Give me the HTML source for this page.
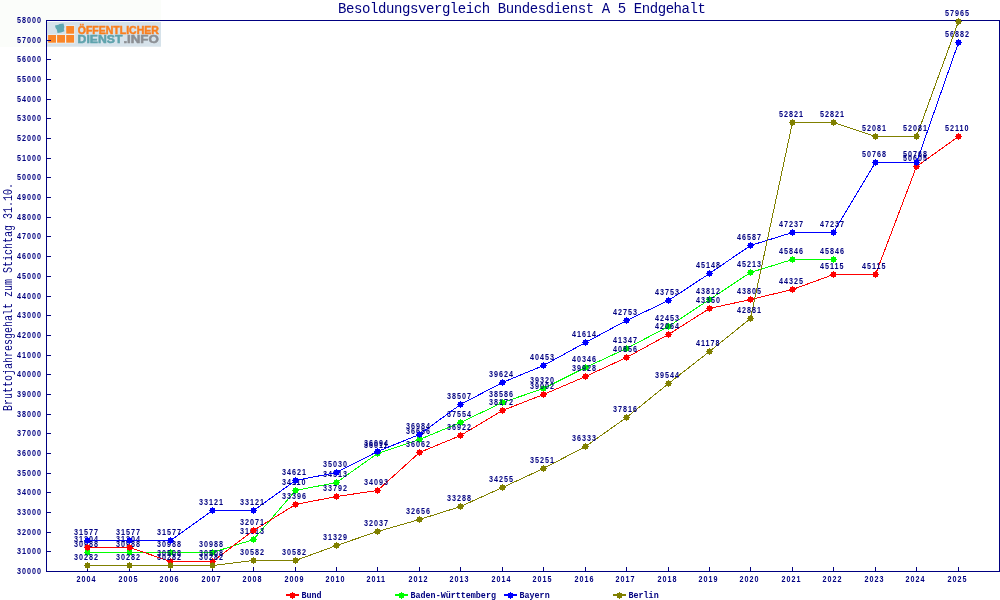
<!DOCTYPE html>
<html lang="de"><head><meta charset="utf-8"><title>Besoldungsvergleich Bundesdienst A 5 Endgehalt</title>
<style>
html,body{margin:0;padding:0;background:#fff;}
body{width:1000px;height:600px;overflow:hidden;font-family:"Liberation Mono",monospace;}
svg{display:block;position:absolute;left:0;top:0;will-change:transform;}
text{font-family:"Liberation Mono",monospace;fill:#000080;}
.t text,.v text{font-family:"Liberation Sans",sans-serif;font-size:9px;letter-spacing:1.25px;font-weight:bold;}
.l{font-size:8.4px;font-weight:bold;}
.ttl{font-size:14px;}
.yt{font-size:13.2px;}
.lg{font-family:"Liberation Sans",sans-serif;font-weight:bold;}
.ce{shape-rendering:crispEdges;}
</style></head><body>
<svg width="1000" height="600" viewBox="0 0 1000 600">
<rect width="1000" height="600" fill="#ffffff"/>
<rect x="0" y="0" width="161" height="47" fill="#fbfdfa"/>
<g id="logo">
<rect x="47" y="22" width="114" height="24.7" fill="#d6e2ea"/>
<rect x="47.6" y="34.4" width="27.2" height="9" fill="#eef3f6"/>
<rect x="65.6" y="25.4" width="9.2" height="9.4" fill="#eef3f6"/>
<rect x="48.1" y="35.0" width="7.9" height="7.7" fill="#fa8629"/>
<rect x="57.1" y="35.0" width="7.9" height="7.7" fill="#fa8629"/>
<rect x="66.2" y="35.0" width="7.9" height="7.7" fill="#fa8629"/>
<rect x="66.2" y="26.0" width="7.9" height="7.7" fill="#fa8629"/>
<path d="M55 25.5 L58.4 24.7 L59.6 24 L63.5 23.6 L64.3 27 L63.8 29 L64.4 31.2 L61 32.4 L57.5 33 L56.8 29.6 L55.6 28 Z" fill="#5fa8b2"/>
<text class="lg" x="77.8" y="33.5" font-size="10.6" textLength="81" lengthAdjust="spacingAndGlyphs" style="fill:#fa7f1e;stroke:#fa7f1e;stroke-width:0.5">ÖFFENTLICHER</text>
<text class="lg" x="77.6" y="42.7" font-size="10.5" textLength="44.8" lengthAdjust="spacingAndGlyphs" style="fill:#5fa3ad;stroke:#5fa3ad;stroke-width:0.5">DIENST</text>
<text class="lg" x="123.4" y="42.7" font-size="10.5" textLength="35.4" lengthAdjust="spacingAndGlyphs" style="fill:#8c8f94;stroke:#8c8f94;stroke-width:0.5">.INFO</text>
</g>
<text class="ttl" x="338" y="12.5" textLength="368" lengthAdjust="spacing">Besoldungsvergleich Bundesdienst A 5 Endgehalt</text>
<text class="yt" transform="translate(12,411) rotate(-90)" textLength="228" lengthAdjust="spacingAndGlyphs">Bruttojahresgehalt zum Stichtag 31.10.</text>
<g class="ce" fill="#000080">
<rect x="46" y="20" width="954" height="1"/>
<rect x="46" y="571" width="954" height="1"/>
<rect x="46" y="20" width="1" height="552"/>
<rect x="999" y="20" width="1" height="552"/>
<rect x="47" y="571" width="4" height="1"/>
<rect x="47" y="551" width="4" height="1"/>
<rect x="47" y="532" width="4" height="1"/>
<rect x="47" y="512" width="4" height="1"/>
<rect x="47" y="492" width="4" height="1"/>
<rect x="47" y="473" width="4" height="1"/>
<rect x="47" y="453" width="4" height="1"/>
<rect x="47" y="433" width="4" height="1"/>
<rect x="47" y="414" width="4" height="1"/>
<rect x="47" y="394" width="4" height="1"/>
<rect x="47" y="374" width="4" height="1"/>
<rect x="47" y="355" width="4" height="1"/>
<rect x="47" y="335" width="4" height="1"/>
<rect x="47" y="315" width="4" height="1"/>
<rect x="47" y="296" width="4" height="1"/>
<rect x="47" y="276" width="4" height="1"/>
<rect x="47" y="256" width="4" height="1"/>
<rect x="47" y="236" width="4" height="1"/>
<rect x="47" y="217" width="4" height="1"/>
<rect x="47" y="197" width="4" height="1"/>
<rect x="47" y="177" width="4" height="1"/>
<rect x="47" y="158" width="4" height="1"/>
<rect x="47" y="138" width="4" height="1"/>
<rect x="47" y="118" width="4" height="1"/>
<rect x="47" y="99" width="4" height="1"/>
<rect x="47" y="79" width="4" height="1"/>
<rect x="47" y="59" width="4" height="1"/>
<rect x="47" y="40" width="4" height="1"/>
<rect x="47" y="20" width="4" height="1"/>
<rect x="87" y="567" width="1" height="4"/>
<rect x="129" y="567" width="1" height="4"/>
<rect x="170" y="567" width="1" height="4"/>
<rect x="212" y="567" width="1" height="4"/>
<rect x="253" y="567" width="1" height="4"/>
<rect x="295" y="567" width="1" height="4"/>
<rect x="336" y="567" width="1" height="4"/>
<rect x="377" y="567" width="1" height="4"/>
<rect x="419" y="567" width="1" height="4"/>
<rect x="460" y="567" width="1" height="4"/>
<rect x="502" y="567" width="1" height="4"/>
<rect x="543" y="567" width="1" height="4"/>
<rect x="585" y="567" width="1" height="4"/>
<rect x="626" y="567" width="1" height="4"/>
<rect x="668" y="567" width="1" height="4"/>
<rect x="709" y="567" width="1" height="4"/>
<rect x="750" y="567" width="1" height="4"/>
<rect x="792" y="567" width="1" height="4"/>
<rect x="833" y="567" width="1" height="4"/>
<rect x="875" y="567" width="1" height="4"/>
<rect x="916" y="567" width="1" height="4"/>
<rect x="958" y="567" width="1" height="4"/>
</g>
<g class="t" transform="scale(0.8,1)">
<text x="21.25" y="574">30000</text>
<text x="21.25" y="554">31000</text>
<text x="21.25" y="535">32000</text>
<text x="21.25" y="515">33000</text>
<text x="21.25" y="495">34000</text>
<text x="21.25" y="476">35000</text>
<text x="21.25" y="456">36000</text>
<text x="21.25" y="436">37000</text>
<text x="21.25" y="417">38000</text>
<text x="21.25" y="397">39000</text>
<text x="21.25" y="377">40000</text>
<text x="21.25" y="358">41000</text>
<text x="21.25" y="338">42000</text>
<text x="21.25" y="318">43000</text>
<text x="21.25" y="299">44000</text>
<text x="21.25" y="279">45000</text>
<text x="21.25" y="259">46000</text>
<text x="21.25" y="239">47000</text>
<text x="21.25" y="220">48000</text>
<text x="21.25" y="200">49000</text>
<text x="21.25" y="180">50000</text>
<text x="21.25" y="161">51000</text>
<text x="21.25" y="141">52000</text>
<text x="21.25" y="121">53000</text>
<text x="21.25" y="102">54000</text>
<text x="21.25" y="82">55000</text>
<text x="21.25" y="62">56000</text>
<text x="21.25" y="43">57000</text>
<text x="21.25" y="23">58000</text>
</g>
<g class="t" transform="scale(0.8,1)">
<text x="95.62" y="582">2004</text>
<text x="148.12" y="582">2005</text>
<text x="199.38" y="582">2006</text>
<text x="251.88" y="582">2007</text>
<text x="303.12" y="582">2008</text>
<text x="355.62" y="582">2009</text>
<text x="406.88" y="582">2010</text>
<text x="458.12" y="582">2011</text>
<text x="510.62" y="582">2012</text>
<text x="561.88" y="582">2013</text>
<text x="614.38" y="582">2014</text>
<text x="665.62" y="582">2015</text>
<text x="718.12" y="582">2016</text>
<text x="769.38" y="582">2017</text>
<text x="821.88" y="582">2018</text>
<text x="873.12" y="582">2019</text>
<text x="924.38" y="582">2020</text>
<text x="976.88" y="582">2021</text>
<text x="1028.12" y="582">2022</text>
<text x="1080.62" y="582">2023</text>
<text x="1131.88" y="582">2024</text>
<text x="1184.38" y="582">2025</text>
</g>
<g class="ce">
<polyline fill="none" stroke="#00ff00" stroke-width="1" points="87.5,552.5 129.5,552.5 170.5,552.5 212.5,552.5 253.5,539.5 295.5,490.5 336.5,482.5 377.5,453.5 419.5,439.5 460.5,422.5 502.5,402.5 543.5,388.5 585.5,367.5 626.5,348.5 668.5,326.5 709.5,299.5 750.5,272.5 792.5,259.5 833.5,259.5"/>
<path fill="#00ff00" d="M85 550h5v5h-5zM87 549h1v1h-1zM87 555h1v1h-1zM84 552h1v1h-1zM90 552h1v1h-1z"/>
<path fill="#00ff00" d="M127 550h5v5h-5zM129 549h1v1h-1zM129 555h1v1h-1zM126 552h1v1h-1zM132 552h1v1h-1z"/>
<path fill="#00ff00" d="M168 550h5v5h-5zM170 549h1v1h-1zM170 555h1v1h-1zM167 552h1v1h-1zM173 552h1v1h-1z"/>
<path fill="#00ff00" d="M210 550h5v5h-5zM212 549h1v1h-1zM212 555h1v1h-1zM209 552h1v1h-1zM215 552h1v1h-1z"/>
<path fill="#00ff00" d="M251 537h5v5h-5zM253 536h1v1h-1zM253 542h1v1h-1zM250 539h1v1h-1zM256 539h1v1h-1z"/>
<path fill="#00ff00" d="M293 488h5v5h-5zM295 487h1v1h-1zM295 493h1v1h-1zM292 490h1v1h-1zM298 490h1v1h-1z"/>
<path fill="#00ff00" d="M334 480h5v5h-5zM336 479h1v1h-1zM336 485h1v1h-1zM333 482h1v1h-1zM339 482h1v1h-1z"/>
<path fill="#00ff00" d="M375 451h5v5h-5zM377 450h1v1h-1zM377 456h1v1h-1zM374 453h1v1h-1zM380 453h1v1h-1z"/>
<path fill="#00ff00" d="M417 437h5v5h-5zM419 436h1v1h-1zM419 442h1v1h-1zM416 439h1v1h-1zM422 439h1v1h-1z"/>
<path fill="#00ff00" d="M458 420h5v5h-5zM460 419h1v1h-1zM460 425h1v1h-1zM457 422h1v1h-1zM463 422h1v1h-1z"/>
<path fill="#00ff00" d="M500 400h5v5h-5zM502 399h1v1h-1zM502 405h1v1h-1zM499 402h1v1h-1zM505 402h1v1h-1z"/>
<path fill="#00ff00" d="M541 386h5v5h-5zM543 385h1v1h-1zM543 391h1v1h-1zM540 388h1v1h-1zM546 388h1v1h-1z"/>
<path fill="#00ff00" d="M583 365h5v5h-5zM585 364h1v1h-1zM585 370h1v1h-1zM582 367h1v1h-1zM588 367h1v1h-1z"/>
<path fill="#00ff00" d="M624 346h5v5h-5zM626 345h1v1h-1zM626 351h1v1h-1zM623 348h1v1h-1zM629 348h1v1h-1z"/>
<path fill="#00ff00" d="M666 324h5v5h-5zM668 323h1v1h-1zM668 329h1v1h-1zM665 326h1v1h-1zM671 326h1v1h-1z"/>
<path fill="#00ff00" d="M707 297h5v5h-5zM709 296h1v1h-1zM709 302h1v1h-1zM706 299h1v1h-1zM712 299h1v1h-1z"/>
<path fill="#00ff00" d="M748 270h5v5h-5zM750 269h1v1h-1zM750 275h1v1h-1zM747 272h1v1h-1zM753 272h1v1h-1z"/>
<path fill="#00ff00" d="M790 257h5v5h-5zM792 256h1v1h-1zM792 262h1v1h-1zM789 259h1v1h-1zM795 259h1v1h-1z"/>
<path fill="#00ff00" d="M831 257h5v5h-5zM833 256h1v1h-1zM833 262h1v1h-1zM830 259h1v1h-1zM836 259h1v1h-1z"/>
</g>
<g class="v" transform="scale(0.8,1)">
<text x="92.50" y="547">30988</text>
<text x="145.00" y="547">30988</text>
<text x="196.25" y="547">30988</text>
<text x="248.75" y="547">30988</text>
<text x="300.00" y="534">31613</text>
<text x="352.50" y="485">34110</text>
<text x="403.75" y="477">34513</text>
<text x="455.00" y="448">36011</text>
<text x="507.50" y="434">36686</text>
<text x="558.75" y="417">37554</text>
<text x="611.25" y="397">38586</text>
<text x="662.50" y="383">39320</text>
<text x="715.00" y="362">40346</text>
<text x="766.25" y="343">41347</text>
<text x="818.75" y="321">42453</text>
<text x="870.00" y="294">43812</text>
<text x="921.25" y="267">45213</text>
<text x="973.75" y="254">45846</text>
<text x="1025.00" y="254">45846</text>
</g>
<g class="ce">
<polyline fill="none" stroke="#ff0000" stroke-width="1" points="87.5,547.5 129.5,547.5 170.5,561.5 212.5,561.5 253.5,530.5 295.5,504.5 336.5,496.5 377.5,490.5 419.5,452.5 460.5,435.5 502.5,410.5 543.5,394.5 585.5,376.5 626.5,357.5 668.5,334.5 709.5,308.5 750.5,299.5 792.5,289.5 833.5,274.5 875.5,274.5 916.5,166.5 958.5,136.5"/>
<path fill="#ff0000" d="M85 545h5v5h-5zM87 544h1v1h-1zM87 550h1v1h-1zM84 547h1v1h-1zM90 547h1v1h-1z"/>
<path fill="#ff0000" d="M127 545h5v5h-5zM129 544h1v1h-1zM129 550h1v1h-1zM126 547h1v1h-1zM132 547h1v1h-1z"/>
<path fill="#ff0000" d="M168 559h5v5h-5zM170 558h1v1h-1zM170 564h1v1h-1zM167 561h1v1h-1zM173 561h1v1h-1z"/>
<path fill="#ff0000" d="M210 559h5v5h-5zM212 558h1v1h-1zM212 564h1v1h-1zM209 561h1v1h-1zM215 561h1v1h-1z"/>
<path fill="#ff0000" d="M251 528h5v5h-5zM253 527h1v1h-1zM253 533h1v1h-1zM250 530h1v1h-1zM256 530h1v1h-1z"/>
<path fill="#ff0000" d="M293 502h5v5h-5zM295 501h1v1h-1zM295 507h1v1h-1zM292 504h1v1h-1zM298 504h1v1h-1z"/>
<path fill="#ff0000" d="M334 494h5v5h-5zM336 493h1v1h-1zM336 499h1v1h-1zM333 496h1v1h-1zM339 496h1v1h-1z"/>
<path fill="#ff0000" d="M375 488h5v5h-5zM377 487h1v1h-1zM377 493h1v1h-1zM374 490h1v1h-1zM380 490h1v1h-1z"/>
<path fill="#ff0000" d="M417 450h5v5h-5zM419 449h1v1h-1zM419 455h1v1h-1zM416 452h1v1h-1zM422 452h1v1h-1z"/>
<path fill="#ff0000" d="M458 433h5v5h-5zM460 432h1v1h-1zM460 438h1v1h-1zM457 435h1v1h-1zM463 435h1v1h-1z"/>
<path fill="#ff0000" d="M500 408h5v5h-5zM502 407h1v1h-1zM502 413h1v1h-1zM499 410h1v1h-1zM505 410h1v1h-1z"/>
<path fill="#ff0000" d="M541 392h5v5h-5zM543 391h1v1h-1zM543 397h1v1h-1zM540 394h1v1h-1zM546 394h1v1h-1z"/>
<path fill="#ff0000" d="M583 374h5v5h-5zM585 373h1v1h-1zM585 379h1v1h-1zM582 376h1v1h-1zM588 376h1v1h-1z"/>
<path fill="#ff0000" d="M624 355h5v5h-5zM626 354h1v1h-1zM626 360h1v1h-1zM623 357h1v1h-1zM629 357h1v1h-1z"/>
<path fill="#ff0000" d="M666 332h5v5h-5zM668 331h1v1h-1zM668 337h1v1h-1zM665 334h1v1h-1zM671 334h1v1h-1z"/>
<path fill="#ff0000" d="M707 306h5v5h-5zM709 305h1v1h-1zM709 311h1v1h-1zM706 308h1v1h-1zM712 308h1v1h-1z"/>
<path fill="#ff0000" d="M748 297h5v5h-5zM750 296h1v1h-1zM750 302h1v1h-1zM747 299h1v1h-1zM753 299h1v1h-1z"/>
<path fill="#ff0000" d="M790 287h5v5h-5zM792 286h1v1h-1zM792 292h1v1h-1zM789 289h1v1h-1zM795 289h1v1h-1z"/>
<path fill="#ff0000" d="M831 272h5v5h-5zM833 271h1v1h-1zM833 277h1v1h-1zM830 274h1v1h-1zM836 274h1v1h-1z"/>
<path fill="#ff0000" d="M873 272h5v5h-5zM875 271h1v1h-1zM875 277h1v1h-1zM872 274h1v1h-1zM878 274h1v1h-1z"/>
<path fill="#ff0000" d="M914 164h5v5h-5zM916 163h1v1h-1zM916 169h1v1h-1zM913 166h1v1h-1zM919 166h1v1h-1z"/>
<path fill="#ff0000" d="M956 134h5v5h-5zM958 133h1v1h-1zM958 139h1v1h-1zM955 136h1v1h-1zM961 136h1v1h-1z"/>
</g>
<g class="v" transform="scale(0.8,1)">
<text x="92.50" y="542">31204</text>
<text x="145.00" y="542">31204</text>
<text x="196.25" y="556">30508</text>
<text x="248.75" y="556">30508</text>
<text x="300.00" y="525">32071</text>
<text x="352.50" y="499">33396</text>
<text x="403.75" y="491">33792</text>
<text x="455.00" y="485">34093</text>
<text x="507.50" y="447">36062</text>
<text x="558.75" y="430">36922</text>
<text x="611.25" y="405">38172</text>
<text x="662.50" y="389">39002</text>
<text x="715.00" y="371">39928</text>
<text x="766.25" y="352">40856</text>
<text x="818.75" y="329">42064</text>
<text x="870.00" y="303">43350</text>
<text x="921.25" y="294">43805</text>
<text x="973.75" y="284">44325</text>
<text x="1025.00" y="269">45115</text>
<text x="1077.50" y="269">45115</text>
<text x="1128.75" y="161">50605</text>
<text x="1181.25" y="131">52110</text>
</g>
<g class="ce">
<polyline fill="none" stroke="#0000ff" stroke-width="1" points="87.5,540.5 129.5,540.5 170.5,540.5 212.5,510.5 253.5,510.5 295.5,480.5 336.5,472.5 377.5,451.5 419.5,434.5 460.5,404.5 502.5,382.5 543.5,365.5 585.5,342.5 626.5,320.5 668.5,300.5 709.5,273.5 750.5,245.5 792.5,232.5 833.5,232.5 875.5,162.5 916.5,162.5 958.5,42.5"/>
<path fill="#0000ff" d="M85 538h5v5h-5zM87 537h1v1h-1zM87 543h1v1h-1zM84 540h1v1h-1zM90 540h1v1h-1z"/>
<path fill="#0000ff" d="M127 538h5v5h-5zM129 537h1v1h-1zM129 543h1v1h-1zM126 540h1v1h-1zM132 540h1v1h-1z"/>
<path fill="#0000ff" d="M168 538h5v5h-5zM170 537h1v1h-1zM170 543h1v1h-1zM167 540h1v1h-1zM173 540h1v1h-1z"/>
<path fill="#0000ff" d="M210 508h5v5h-5zM212 507h1v1h-1zM212 513h1v1h-1zM209 510h1v1h-1zM215 510h1v1h-1z"/>
<path fill="#0000ff" d="M251 508h5v5h-5zM253 507h1v1h-1zM253 513h1v1h-1zM250 510h1v1h-1zM256 510h1v1h-1z"/>
<path fill="#0000ff" d="M293 478h5v5h-5zM295 477h1v1h-1zM295 483h1v1h-1zM292 480h1v1h-1zM298 480h1v1h-1z"/>
<path fill="#0000ff" d="M334 470h5v5h-5zM336 469h1v1h-1zM336 475h1v1h-1zM333 472h1v1h-1zM339 472h1v1h-1z"/>
<path fill="#0000ff" d="M375 449h5v5h-5zM377 448h1v1h-1zM377 454h1v1h-1zM374 451h1v1h-1zM380 451h1v1h-1z"/>
<path fill="#0000ff" d="M417 432h5v5h-5zM419 431h1v1h-1zM419 437h1v1h-1zM416 434h1v1h-1zM422 434h1v1h-1z"/>
<path fill="#0000ff" d="M458 402h5v5h-5zM460 401h1v1h-1zM460 407h1v1h-1zM457 404h1v1h-1zM463 404h1v1h-1z"/>
<path fill="#0000ff" d="M500 380h5v5h-5zM502 379h1v1h-1zM502 385h1v1h-1zM499 382h1v1h-1zM505 382h1v1h-1z"/>
<path fill="#0000ff" d="M541 363h5v5h-5zM543 362h1v1h-1zM543 368h1v1h-1zM540 365h1v1h-1zM546 365h1v1h-1z"/>
<path fill="#0000ff" d="M583 340h5v5h-5zM585 339h1v1h-1zM585 345h1v1h-1zM582 342h1v1h-1zM588 342h1v1h-1z"/>
<path fill="#0000ff" d="M624 318h5v5h-5zM626 317h1v1h-1zM626 323h1v1h-1zM623 320h1v1h-1zM629 320h1v1h-1z"/>
<path fill="#0000ff" d="M666 298h5v5h-5zM668 297h1v1h-1zM668 303h1v1h-1zM665 300h1v1h-1zM671 300h1v1h-1z"/>
<path fill="#0000ff" d="M707 271h5v5h-5zM709 270h1v1h-1zM709 276h1v1h-1zM706 273h1v1h-1zM712 273h1v1h-1z"/>
<path fill="#0000ff" d="M748 243h5v5h-5zM750 242h1v1h-1zM750 248h1v1h-1zM747 245h1v1h-1zM753 245h1v1h-1z"/>
<path fill="#0000ff" d="M790 230h5v5h-5zM792 229h1v1h-1zM792 235h1v1h-1zM789 232h1v1h-1zM795 232h1v1h-1z"/>
<path fill="#0000ff" d="M831 230h5v5h-5zM833 229h1v1h-1zM833 235h1v1h-1zM830 232h1v1h-1zM836 232h1v1h-1z"/>
<path fill="#0000ff" d="M873 160h5v5h-5zM875 159h1v1h-1zM875 165h1v1h-1zM872 162h1v1h-1zM878 162h1v1h-1z"/>
<path fill="#0000ff" d="M914 160h5v5h-5zM916 159h1v1h-1zM916 165h1v1h-1zM913 162h1v1h-1zM919 162h1v1h-1z"/>
<path fill="#0000ff" d="M956 40h5v5h-5zM958 39h1v1h-1zM958 45h1v1h-1zM955 42h1v1h-1zM961 42h1v1h-1z"/>
</g>
<g class="v" transform="scale(0.8,1)">
<text x="92.50" y="535">31577</text>
<text x="145.00" y="535">31577</text>
<text x="196.25" y="535">31577</text>
<text x="248.75" y="505">33121</text>
<text x="300.00" y="505">33121</text>
<text x="352.50" y="475">34621</text>
<text x="403.75" y="467">35030</text>
<text x="455.00" y="446">36094</text>
<text x="507.50" y="429">36984</text>
<text x="558.75" y="399">38507</text>
<text x="611.25" y="377">39624</text>
<text x="662.50" y="360">40453</text>
<text x="715.00" y="337">41614</text>
<text x="766.25" y="315">42753</text>
<text x="818.75" y="295">43753</text>
<text x="870.00" y="268">45148</text>
<text x="921.25" y="240">46587</text>
<text x="973.75" y="227">47237</text>
<text x="1025.00" y="227">47237</text>
<text x="1077.50" y="157">50768</text>
<text x="1128.75" y="157">50768</text>
<text x="1181.25" y="37">56882</text>
</g>
<g class="ce">
<polyline fill="none" stroke="#808000" stroke-width="1" points="87.5,565.5 129.5,565.5 170.5,565.5 212.5,565.5 253.5,560.5 295.5,560.5 336.5,545.5 377.5,531.5 419.5,519.5 460.5,506.5 502.5,487.5 543.5,468.5 585.5,446.5 626.5,417.5 668.5,383.5 709.5,351.5 750.5,318.5 792.5,122.5 833.5,122.5 875.5,136.5 916.5,136.5 958.5,21.5"/>
<path fill="#808000" d="M85 563h5v5h-5zM87 562h1v1h-1zM87 568h1v1h-1zM84 565h1v1h-1zM90 565h1v1h-1z"/>
<path fill="#808000" d="M127 563h5v5h-5zM129 562h1v1h-1zM129 568h1v1h-1zM126 565h1v1h-1zM132 565h1v1h-1z"/>
<path fill="#808000" d="M168 563h5v5h-5zM170 562h1v1h-1zM170 568h1v1h-1zM167 565h1v1h-1zM173 565h1v1h-1z"/>
<path fill="#808000" d="M210 563h5v5h-5zM212 562h1v1h-1zM212 568h1v1h-1zM209 565h1v1h-1zM215 565h1v1h-1z"/>
<path fill="#808000" d="M251 558h5v5h-5zM253 557h1v1h-1zM253 563h1v1h-1zM250 560h1v1h-1zM256 560h1v1h-1z"/>
<path fill="#808000" d="M293 558h5v5h-5zM295 557h1v1h-1zM295 563h1v1h-1zM292 560h1v1h-1zM298 560h1v1h-1z"/>
<path fill="#808000" d="M334 543h5v5h-5zM336 542h1v1h-1zM336 548h1v1h-1zM333 545h1v1h-1zM339 545h1v1h-1z"/>
<path fill="#808000" d="M375 529h5v5h-5zM377 528h1v1h-1zM377 534h1v1h-1zM374 531h1v1h-1zM380 531h1v1h-1z"/>
<path fill="#808000" d="M417 517h5v5h-5zM419 516h1v1h-1zM419 522h1v1h-1zM416 519h1v1h-1zM422 519h1v1h-1z"/>
<path fill="#808000" d="M458 504h5v5h-5zM460 503h1v1h-1zM460 509h1v1h-1zM457 506h1v1h-1zM463 506h1v1h-1z"/>
<path fill="#808000" d="M500 485h5v5h-5zM502 484h1v1h-1zM502 490h1v1h-1zM499 487h1v1h-1zM505 487h1v1h-1z"/>
<path fill="#808000" d="M541 466h5v5h-5zM543 465h1v1h-1zM543 471h1v1h-1zM540 468h1v1h-1zM546 468h1v1h-1z"/>
<path fill="#808000" d="M583 444h5v5h-5zM585 443h1v1h-1zM585 449h1v1h-1zM582 446h1v1h-1zM588 446h1v1h-1z"/>
<path fill="#808000" d="M624 415h5v5h-5zM626 414h1v1h-1zM626 420h1v1h-1zM623 417h1v1h-1zM629 417h1v1h-1z"/>
<path fill="#808000" d="M666 381h5v5h-5zM668 380h1v1h-1zM668 386h1v1h-1zM665 383h1v1h-1zM671 383h1v1h-1z"/>
<path fill="#808000" d="M707 349h5v5h-5zM709 348h1v1h-1zM709 354h1v1h-1zM706 351h1v1h-1zM712 351h1v1h-1z"/>
<path fill="#808000" d="M748 316h5v5h-5zM750 315h1v1h-1zM750 321h1v1h-1zM747 318h1v1h-1zM753 318h1v1h-1z"/>
<path fill="#808000" d="M790 120h5v5h-5zM792 119h1v1h-1zM792 125h1v1h-1zM789 122h1v1h-1zM795 122h1v1h-1z"/>
<path fill="#808000" d="M831 120h5v5h-5zM833 119h1v1h-1zM833 125h1v1h-1zM830 122h1v1h-1zM836 122h1v1h-1z"/>
<path fill="#808000" d="M873 134h5v5h-5zM875 133h1v1h-1zM875 139h1v1h-1zM872 136h1v1h-1zM878 136h1v1h-1z"/>
<path fill="#808000" d="M914 134h5v5h-5zM916 133h1v1h-1zM916 139h1v1h-1zM913 136h1v1h-1zM919 136h1v1h-1z"/>
<path fill="#808000" d="M956 19h5v5h-5zM958 18h1v1h-1zM958 24h1v1h-1zM955 21h1v1h-1zM961 21h1v1h-1z"/>
</g>
<g class="v" transform="scale(0.8,1)">
<text x="92.50" y="560">30282</text>
<text x="145.00" y="560">30282</text>
<text x="196.25" y="560">30282</text>
<text x="248.75" y="560">30282</text>
<text x="300.00" y="555">30582</text>
<text x="352.50" y="555">30582</text>
<text x="403.75" y="540">31329</text>
<text x="455.00" y="526">32037</text>
<text x="507.50" y="514">32656</text>
<text x="558.75" y="501">33288</text>
<text x="611.25" y="482">34255</text>
<text x="662.50" y="463">35251</text>
<text x="715.00" y="441">36333</text>
<text x="766.25" y="412">37816</text>
<text x="818.75" y="378">39544</text>
<text x="870.00" y="346">41178</text>
<text x="921.25" y="313">42881</text>
<text x="973.75" y="117">52821</text>
<text x="1025.00" y="117">52821</text>
<text x="1077.50" y="131">52081</text>
<text x="1128.75" y="131">52081</text>
<text x="1181.25" y="16">57965</text>
</g>
<g class="ce"><rect x="286" y="594" width="13" height="2" fill="#ff0000"/><path fill="#ff0000" d="M290 593h5v5h-5zM292 592h1v1h-1zM292 598h1v1h-1zM289 595h1v1h-1zM295 595h1v1h-1z"/></g>
<text class="l" x="301.5" y="598">Bund</text>
<g class="ce"><rect x="395" y="594" width="13" height="2" fill="#00ff00"/><path fill="#00ff00" d="M399 593h5v5h-5zM401 592h1v1h-1zM401 598h1v1h-1zM398 595h1v1h-1zM404 595h1v1h-1z"/></g>
<text class="l" x="410.5" y="598">Baden-Württemberg</text>
<g class="ce"><rect x="504" y="594" width="13" height="2" fill="#0000ff"/><path fill="#0000ff" d="M508 593h5v5h-5zM510 592h1v1h-1zM510 598h1v1h-1zM507 595h1v1h-1zM513 595h1v1h-1z"/></g>
<text class="l" x="519.5" y="598">Bayern</text>
<g class="ce"><rect x="613" y="594" width="13" height="2" fill="#808000"/><path fill="#808000" d="M617 593h5v5h-5zM619 592h1v1h-1zM619 598h1v1h-1zM616 595h1v1h-1zM622 595h1v1h-1z"/></g>
<text class="l" x="628.5" y="598">Berlin</text>
</svg></body></html>
